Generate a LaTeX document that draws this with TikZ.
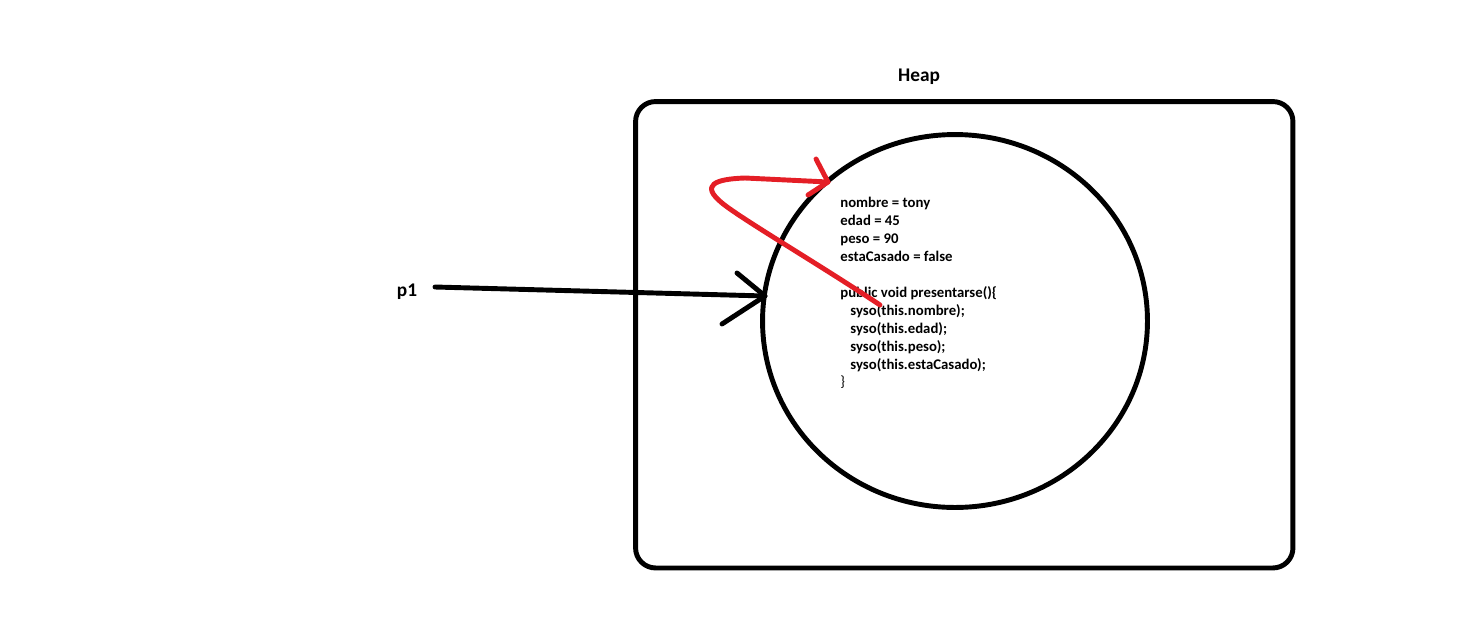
\documentclass[tikz,border=0pt]{standalone}
\usepackage{fontspec}
\setmainfont{Carlito}
\usepackage{tikz}
\usetikzlibrary{calc, positioning, shapes.geometric}
\definecolor{pencil}{RGB}{228,30,38}
\tikzset{
	x=0.02cm,
	y=-0.02cm,
	font=\bfseries,
	heapbox/.style={
		draw,
		line width=2.8pt,
		rounded corners=0.4cm,
		minimum width=13.15cm,
		minimum height=9.33cm,
		inner sep=0pt
	},
	objcircle/.style={
		draw,
		ellipse,
		line width=2.8pt,
		minimum width=7.7cm,
		minimum height=7.46cm,
		inner sep=0pt
	},
	ref/.style={
		line width=2.8pt,
		line cap=round,
		line join=round
	},
	redline/.style={
		pencil,
		line width=2.8pt,
		line cap=round,
		line join=round
	}
}

\begin{document}
\begin{tikzpicture}
		\useasboundingbox (0,0) rectangle (1459,643);

		\node[heapbox] (heap) at (964.25,334.75) {};
		\node[font=\fontsize{11}{13}\selectfont\bfseries] (heaplabel) at (919,77) {Heap};
		\node[objcircle] (obj) at (955,321) {};
		\node[anchor=north west, align=left, inner sep=0pt, font=\fontsize{8.4}{10.2}\selectfont\bfseries] (fields) at (840,197) {%
			nombre = tony\\
			edad = 45\\
			peso = 90\\
			estaCasado = false\\[10.2pt]
			public void presentarse()\{\\
			\hspace*{5.7pt}syso(this.nombre);\\
			\hspace*{5.7pt}syso(this.edad);\\
			\hspace*{5.7pt}syso(this.peso);\\
			\hspace*{5.7pt}syso(this.estaCasado);\\
			{\mdseries\}}};
		\node[font=\fontsize{11}{13}\selectfont\bfseries] (p1) at (407,292) {p1};

		% reference p1 -> object
		\coordinate (tail) at (435,287);
		\coordinate (tip) at (765,296);
		\draw[ref] (tail) -- (tip);
		\draw[ref] (737,273) -- (tip) -- (722,324);

		% this -> object
		\coordinate (start) at (880,305);
		\coordinate (head) at (828,182);
		\draw[redline] (start) .. controls (820,265) and (740,218) .. (722,203)
			.. controls (700,185) and (715,179) .. (745,178) -- (head);
		\draw[redline] (816,159) -- (head) -- (808,195);
	\end{tikzpicture}
\end{document}
